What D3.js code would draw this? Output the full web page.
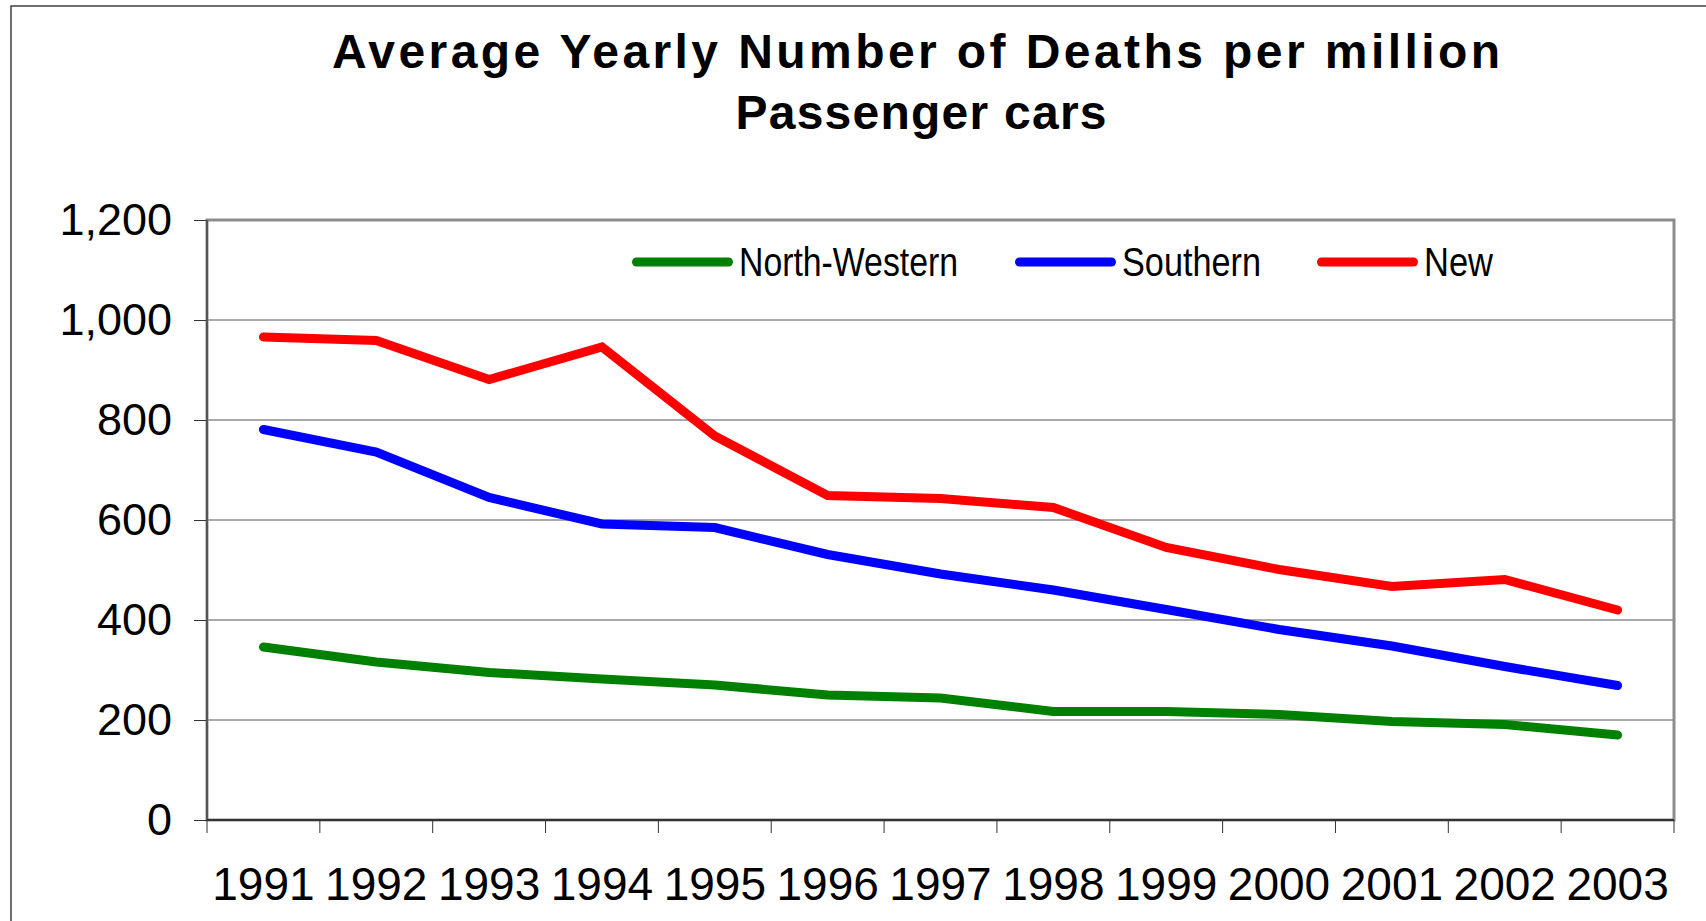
<!DOCTYPE html>
<html>
<head>
<meta charset="utf-8">
<script src="https://cdn.jsdelivr.net/npm/d3@7"></script>
<style>
  body { margin: 0; background: #fff; }
  svg { display: block; font-family: "Liberation Sans", Arial, sans-serif; }
</style>
</head>
<body>
<div id="chart"></div>
<script>
// data
var years = ["1991", "1992", "1993", "1994", "1995", "1996", "1997", "1998", "1999", "2000", "2001", "2002", "2003"];
var northWestern = [346, 316, 295, 282, 270, 250, 244, 217, 217, 211, 197, 191, 170];
var southern = [781, 736, 645, 592, 585, 531, 492, 460, 421, 381, 348, 307, 269];
var newCars = [966, 959, 881, 946, 768, 649, 643, 625, 545, 501, 467, 481, 420];
var yTicks = [0, 200, 400, 600, 800, 1000, 1200];
var seriesNames = ["North-Western", "Southern", "New"];
var seriesColors = ["#008000", "#0000ff", "#ff0000"];
var titleLines = ["Average Yearly Number of Deaths per million", "Passenger cars"];

var drawChart = function () {
    var width = 1706, height = 921;
    var plotLeft = 207, plotRight = 1674, plotTop = 220, plotBottom = 820;

    var svg = d3.select("#chart")
        .append("svg")
        .attr("width", width)
        .attr("height", height);

    svg.append("rect")
        .attr("width", width)
        .attr("height", height)
        .attr("fill", "#fff");

    // outer chart frame
    svg.append("rect")
        .attr("x", 11)
        .attr("y", 6)
        .attr("width", width)
        .attr("height", height)
        .attr("fill", "none")
        .attr("stroke", "#404040")
        .attr("stroke-width", 1.5);

    // title
    var titleWidths = [1168, 371];
    var titleBase = [68, 129];
    var titleX = [916, 921];
    svg.selectAll("text.title")
        .data(titleLines)
        .enter()
        .append("text")
        .attr("class", "title")
        .attr("x", function (d, i) { return titleX[i]; })
        .attr("y", function (d, i) { return titleBase[i]; })
        .attr("text-anchor", "middle")
        .attr("textLength", function (d, i) { return titleWidths[i]; })
        .attr("lengthAdjust", "spacing")
        .style("font-size", "48px")
        .style("font-weight", "bold")
        .text(function (d) { return d; });

    var x = d3.scaleBand().domain(years).range([plotLeft, plotRight]);
    var y = d3.scaleLinear().domain([0, 1200]).range([plotBottom, plotTop]);

    // gridlines
    svg.selectAll("line.grid")
        .data(yTicks.filter(function (d) { return d > 0 && d < 1200; }))
        .enter()
        .append("line")
        .attr("class", "grid")
        .attr("x1", plotLeft)
        .attr("x2", plotRight)
        .attr("y1", function (d) { return y(d); })
        .attr("y2", function (d) { return y(d); })
        .attr("stroke", "#555")
        .attr("stroke-width", 1);

    // plot area border
    svg.append("rect")
        .attr("x", plotLeft)
        .attr("y", plotTop)
        .attr("width", plotRight - plotLeft)
        .attr("height", plotBottom - plotTop)
        .attr("fill", "none")
        .attr("stroke", "#8c8c8c")
        .attr("stroke-width", 3);

    // y axis
    var yAxis = svg.append("g")
        .attr("transform", "translate(" + plotLeft + ",0)")
        .call(d3.axisLeft(y)
            .tickValues(yTicks)
            .tickSize(13)
            .tickPadding(22)
            .tickFormat(d3.format(",")));
    yAxis.select(".domain").remove();
    yAxis.selectAll("line").attr("stroke", "#333");
    yAxis.selectAll("text")
        .style("font-size", "45px")
        .attr("fill", "#000");
    yAxis.attr("font-family", null).attr("font-size", null);

    // x axis labels
    var xAxis = svg.append("g")
        .attr("transform", "translate(0," + plotBottom + ")")
        .call(d3.axisBottom(x).tickSize(0).tickPadding(47));
    xAxis.select(".domain").remove();
    xAxis.selectAll("text")
        .style("font-size", "46px")
        .attr("fill", "#000");
    xAxis.attr("font-family", null).attr("font-size", null);

    // x ticks on category boundaries
    svg.selectAll("line.xtick")
        .data(years.map(function (d) { return x(d); }).concat([plotRight]))
        .enter()
        .append("line")
        .attr("class", "xtick")
        .attr("x1", function (d) { return d; })
        .attr("x2", function (d) { return d; })
        .attr("y1", plotBottom)
        .attr("y2", plotBottom + 13)
        .attr("stroke", "#333");

    // axis lines
    svg.append("line")
        .attr("x1", plotLeft).attr("x2", plotLeft)
        .attr("y1", plotTop).attr("y2", plotBottom)
        .attr("stroke", "#555").attr("stroke-width", 2);
    svg.append("line")
        .attr("x1", plotLeft).attr("x2", plotRight)
        .attr("y1", plotBottom).attr("y2", plotBottom)
        .attr("stroke", "#333").attr("stroke-width", 2);

    // series lines
    var series = [northWestern, southern, newCars];
    var line = d3.line()
        .x(function (d, i) { return x(years[i]) + x.bandwidth() / 2; })
        .y(function (d) { return y(d); });

    svg.selectAll("path.series")
        .data(series)
        .enter()
        .append("path")
        .attr("class", "series")
        .attr("d", line)
        .attr("fill", "none")
        .attr("stroke", function (d, i) { return seriesColors[i]; })
        .attr("stroke-width", 9)
        .attr("stroke-linecap", "round")
        .attr("stroke-linejoin", "miter");

    // legend
    var legendX = [632, 1015, 1317];
    var legendTextW = [219, 139, 69];
    var legendY = 262;
    var legend = svg.selectAll("g.legend")
        .data(seriesNames)
        .enter()
        .append("g")
        .attr("class", "legend")
        .attr("transform", function (d, i) { return "translate(" + legendX[i] + "," + legendY + ")"; });

    legend.append("line")
        .attr("x1", 4.5)
        .attr("x2", 96.5)
        .attr("stroke", function (d, i) { return seriesColors[i]; })
        .attr("stroke-width", 9)
        .attr("stroke-linecap", "round");

    legend.append("text")
        .attr("x", 107)
        .attr("y", 14)
        .attr("textLength", function (d, i) { return legendTextW[i]; })
        .attr("lengthAdjust", "spacingAndGlyphs")
        .style("font-family", "'Liberation Sans Narrow', 'Arial Narrow', 'Liberation Sans', Arial, sans-serif")
        .style("font-size", "40px")
        .text(function (d) { return d; });
};

drawChart();
</script>
</body>
</html>
